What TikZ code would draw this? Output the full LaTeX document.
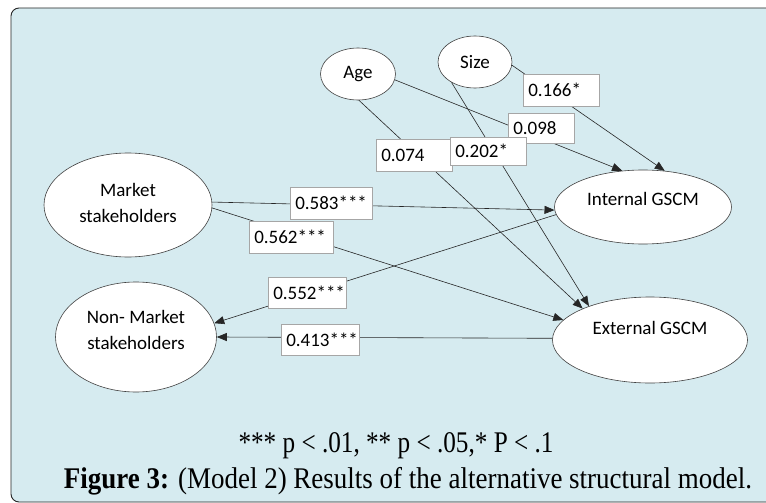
\documentclass[tikz,border=0pt]{standalone}
\usepackage{fontspec}
\setmainfont{Carlito}
\newfontfamily\capfont{Liberation Serif}
\usetikzlibrary{shapes.geometric,arrows.meta}
\definecolor{bgblue}{RGB}{214,235,240}
\begin{document}
\begin{tikzpicture}[x=1pt,y=-1pt,
  ell/.style={ellipse, draw=black!75, fill=white, line width=0.6pt, inner sep=0pt,
    font=\fontsize{19}{26}\selectfont, align=center},
  lt/.style={font=\fontsize{19}{26}\selectfont, align=center, inner sep=0pt},
  lbl/.style={draw=black!35, fill=white, line width=0.5pt, anchor=north west,
    inner xsep=5pt, inner ysep=0pt, align=left, font=\fontsize{19}{22}\selectfont},
  conn/.style={draw=black!85, line width=0.6pt, -{Triangle[length=10pt,width=8pt]}},
  captxt/.style={anchor=base, inner sep=0pt, font=\capfont\fontsize{30}{36}\selectfont}]
\useasboundingbox (0,0) rectangle (766,503);
\draw[fill=bgblue, draw=black!85, line width=0.9pt, rounded corners=8pt] (11,8) rectangle (790,502);

% ellipses
\node[ell, minimum width=75pt, minimum height=52pt] (age) at (358,74) {Age};
\node[ell, minimum width=74pt, minimum height=52pt] (size) at (475,62) {Size};
\node[ell, minimum width=168pt, minimum height=104pt,
  label={[lt, yshift=2pt]center:Market\\stakeholders}] (mkt) at (128,205) {};
\node[ell, minimum width=161pt, minimum height=110pt,
  label={[lt, yshift=7pt]center:Non- Market\\stakeholders}] (nmkt) at (136,337) {};
\node[ell, minimum width=177pt, minimum height=74pt,
  label={[lt, yshift=8pt]center:Internal GSCM}] (int) at (643,207) {};
\node[ell, minimum width=195pt, minimum height=86pt,
  label={[lt, yshift=12pt]center:External GSCM}] (ext) at (650,340) {};

% connectors
\draw[conn] (age.-9) -- (int.120);
\draw[conn] (size.-5) -- (int.59.5);
\draw[conn] (age.-88) -- (ext.155.7);
\draw[conn] (size.-139) -- (ext.151);
\draw[conn] (mkt.2) -- (int.-178);
\draw[conn] (mkt.-2) -- (ext.167.7);
\draw[conn] (int.-175) -- (nmkt.10.4);
\draw[conn] (ext.179) -- (nmkt.0);

% coefficient boxes
\node[lbl, text width=66pt, minimum height=32pt] (c166) at (523,74) {0.166*};
\node[lbl, text width=56pt, minimum height=30pt] (c098) at (508,113) {0.098};
\node[lbl, text width=66pt, minimum height=32pt] (c074) at (376,139) {0.074};
\node[lbl, text width=66pt, minimum height=28pt] (c202) at (450,137) {0.202*};
\node[lbl, text width=72pt, minimum height=32pt] (c583) at (290,187) {0.583***};
\node[lbl, text width=74pt, minimum height=32pt] (c562) at (249,221) {0.562***};
\node[lbl, text width=68pt, minimum height=31pt] (c552) at (268,277) {0.552***};
\node[lbl, text width=68pt, minimum height=31pt] (c413) at (281,324) {0.413***};

% caption
\node[captxt] (note) at (396,452) {\resizebox{315pt}{\height}{*** p < .01, ** p < .05,* P < .1}};
\node[captxt] (cap) at (408,488) {\resizebox{688pt}{\height}{\textbf{Figure 3:} (Model 2) Results of the alternative structural model.}};
\end{tikzpicture}
\end{document}
